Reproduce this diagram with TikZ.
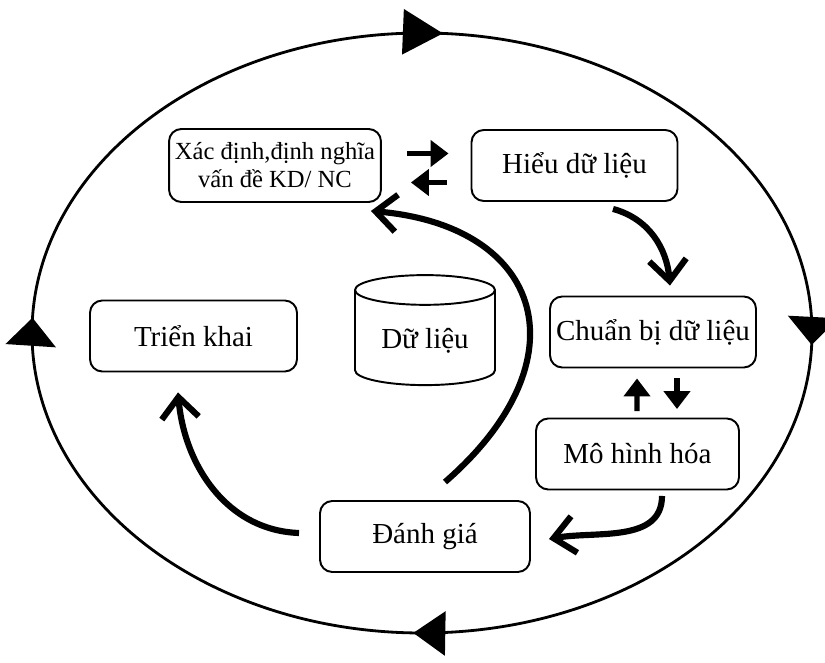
\documentclass[tikz,border=0pt]{standalone}
\usepackage{fontspec}
\setmainfont{Liberation Serif}
\usetikzlibrary{arrows.meta, shapes.geometric, decorations.markings}

\begin{document}
\begin{tikzpicture}[
  box/.style={
    draw, rounded corners=7pt, minimum width=4.12cm, minimum height=1.42cm,
    align=center, line width=1.1pt, font=\fontsize{16.5}{19}\selectfont
  },
  db/.style={
    draw, cylinder, shape border rotate=90, aspect=0.3,
    minimum width=2.8cm, minimum height=2.2cm, line width=1.1pt,
    font=\fontsize{16.5}{19}\selectfont
  },
  flow/.style={-{Straight Barb[length=0.42cm, width=0.74cm]}, line width=3.5pt},
  swap/.style={-{Triangle[length=0.36cm, width=0.52cm]}, line width=3pt},
  cycle/.style={line width=1.6pt}
]
\useasboundingbox (0,0) rectangle (16.5,13.24);

% Outer cycle (clockwise, four arrow heads)
\draw[cycle, postaction={decorate}, decoration={markings,
    mark=at position 0.0096 with {\arrow{Triangle[length=0.8cm, width=0.9cm]}},
    mark=at position 0.2555 with {\arrow{Triangle[length=0.56cm, width=1cm]}},
    mark=at position 0.504 with {\arrow{Triangle[length=0.64cm, width=0.88cm]}},
    mark=at position 0.757 with {\arrow{Triangle[length=0.56cm, width=1cm]}}}]
  (8.44, 12.58) arc[start angle=90, end angle=-270, x radius=7.8, y radius=6];

% Phases
\node[box, font=\fontsize{14}{16}\selectfont, minimum height=1.46cm] (def) at (5.5, 9.93) {Xác định,định nghĩa\\vấn đề KD/ NC};
\node[box] (und) at (11.49, 9.93) {Hiểu dữ liệu};
\node[box] (prep) at (13.06, 6.6) {Chuẩn bị dữ liệu};
\node[box, minimum width=4.06cm] (model) at (12.75, 4.16) {Mô hình hóa};
\node[box, minimum width=4.2cm] (eval) at (8.5, 2.51) {Đánh giá};
\node[box, minimum width=4.14cm] (deploy) at (3.87, 6.52) {Triển khai};
\node[db] (data) at (8.5, 6.42) {Dữ liệu};

% Back and forth
\draw[swap] ([xshift=0.5cm, yshift=0.24cm]def.east) -- ([xshift=-0.44cm, yshift=0.24cm]und.west);
\draw[swap] ([xshift=-0.48cm, yshift=-0.34cm]und.west) -- ([xshift=0.58cm, yshift=-0.34cm]def.east);
\draw[swap] ([xshift=-0.01cm, yshift=0.13cm]model.north) -- ([xshift=-0.32cm, yshift=-0.2cm]prep.south);
\draw[swap] ([xshift=0.48cm, yshift=-0.2cm]prep.south) -- ([xshift=0.79cm, yshift=0.17cm]model.north);

% Curved flow
\draw[flow] ([xshift=0.77cm, yshift=-0.14cm]und.south) to[out=-15, in=95] ([xshift=0.34cm, yshift=0.2cm]prep.north);
\draw[flow] ([xshift=0.49cm, yshift=-0.11cm]model.south) to[out=-90, in=10] ([xshift=0.36cm, yshift=-0.05cm]eval.east);
\draw[flow] ([xshift=-0.4cm, yshift=0.07cm]eval.west) to[out=178, in=-85] ([xshift=-0.31cm, yshift=-0.4cm]deploy.south);
\draw[flow] ([xshift=0.4cm, yshift=0.36cm]eval.north) .. controls +(41:3.73) and +(-5:3.47) .. ([xshift=-0.22cm, yshift=-0.16cm]def.south east);

\end{tikzpicture}
\end{document}
